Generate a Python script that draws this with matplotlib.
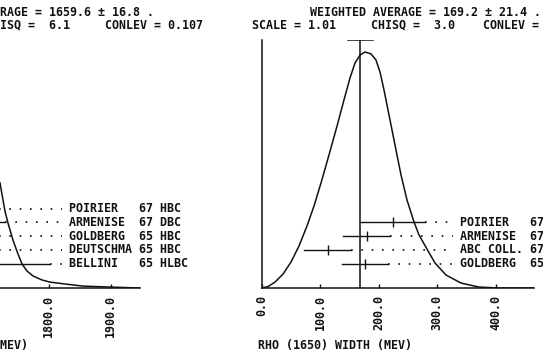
import matplotlib
matplotlib.use("Agg")
import matplotlib.pyplot as plt

plt.rcParams['font.family'] = ['DejaVu Sans Mono']
plt.rcParams['font.weight'] = 'bold'

# ---- left panel: RHO (1650) MASS, ideogram (only its right tail is visible)
mass_avg, mass_avg_err = 1659.6, 16.8
mass_labels = ["POIRIER   67 HBC", "ARMENISE  67 DBC", "GOLDBERG  65 HBC",
               "DEUTSCHMA 65 HBC", "BELLINI   65 HLBC"]
mass_val = [1640, 1670, 1650, 1660, 1700]
mass_err = [50, 60, 45, 35, 102]
mass_curve_x = [1721.8, 1726.6, 1729.8, 1734.7, 1742.7, 1750.8, 1757.3, 1765.3,
                1775.0, 1789.5, 1802.4, 1826.6, 1855.6, 1899.0, 1947.6]
mass_curve_y = [0.445, 0.373, 0.326, 0.275, 0.203, 0.144, 0.102, 0.072,
                0.051, 0.034, 0.025, 0.017, 0.008, 0.004, 0.0]
mass_ticks = [1800, 1900]

# ---- right panel: RHO (1650) WIDTH
width_avg, width_avg_err = 169.2, 21.4
width_labels = ["POIRIER   67", "ARMENISE  67", "ABC COLL. 67", "GOLDBERG  65"]
width_val = [224, 180, 113, 177]
width_err = [56, 40, 40, 40]
width_curve_x = [0, 11.1, 23.1, 36.8, 50.4, 64.1, 77.8, 89.7, 101.7, 115.4,
                 129.1, 141.0, 151.3, 159.8, 168.4, 176.9, 187.2, 195.7, 202.6,
                 209.4, 218.0, 228.2, 238.5, 248.7, 260.7, 269.2, 282.9, 296.6,
                 315.4, 341.0, 371.8, 406.0, 466.0]
width_curve_y = [0, 0.006, 0.025, 0.059, 0.110, 0.178, 0.263, 0.347, 0.445, 0.564,
                 0.686, 0.797, 0.890, 0.953, 0.987, 1.0, 0.992, 0.966, 0.915,
                 0.839, 0.733, 0.606, 0.479, 0.373, 0.280, 0.225, 0.165, 0.106,
                 0.055, 0.021, 0.004, 0.0, 0.0]
width_ticks = [0, 100, 200, 300, 400]

W, H = 543, 360
FS = 8.4
INK = '#111111'


def fx(x):
    return x / W


def fy(y):
    return 1 - y / H


def row_y(i):
    # measurement rows counted from the bottom
    return (288 - (263.5 - 13.75 * i)) / 236


def ideogram(ax, xlim, cx, cy, labels, vals, errs, label_x, avg, avg_err, ticks):
    top = 248 / 236
    ax.plot(cx, cy, color=INK, lw=1.1)
    ax.plot([avg, avg], [0, top], color=INK, lw=1.1)
    ax.plot([avg - avg_err, avg + avg_err], [top, top], color=INK, lw=1.1)
    n = len(labels)
    for k, (lab, v, e) in enumerate(zip(labels, vals, errs)):
        y = row_y(n - 1 - k)
        ax.plot([v - e, v + e], [y, y], color=INK, lw=1.0)
        ax.plot([v], [y], marker='|', ms=6.5, mew=1.0, color=INK)
        ax.plot([v + e, label_x], [y, y], color=INK, lw=1.2,
                linestyle=(0, (1, 5.2)))
        ax.text(label_x, y, " " + lab, fontsize=FS, va='center', ha='left',
                color=INK, clip_on=False)
    ax.set_xticks(ticks)
    ax.set_xticklabels([f"{t:.1f}" for t in ticks])
    ax.set_xlim(*xlim)
    ax.set_ylim(0, top)
    ax.tick_params(axis='x', direction='in', length=3, width=1.0, pad=5,
                   labelsize=FS, labelrotation=90, colors=INK)
    ax.set_yticks([])
    for s in ['top', 'right']:
        ax.spines[s].set_visible(False)
    for s in ['left', 'bottom']:
        ax.spines[s].set_linewidth(1.1)
        ax.spines[s].set_color(INK)


fig = plt.figure(figsize=(W / 100, H / 100), dpi=100)
fig.patch.set_facecolor('white')

# axes boxes in pixels: baseline at y=288, top at y=40
axL = fig.add_axes([fx(0), fy(288), fx(140), 248 / H])
ideogram(axL, (1800 - 48.5 / 0.62, 1800 + (140 - 48.5) / 0.62),
         mass_curve_x, mass_curve_y, mass_labels, mass_val, mass_err,
         1822, mass_avg, mass_avg_err, mass_ticks)
axL.spines['left'].set_visible(False)

axR = fig.add_axes([fx(261.5), fy(288), fx(534 - 261.5), 248 / H])
ideogram(axR, (0, (534 - 261.5) / 0.585),
         width_curve_x, width_curve_y, width_labels, width_val, width_err,
         328, width_avg, width_avg_err, width_ticks)

# headers (the scan is cropped, so the left panel's texts run off the edge)
fig.text(fx(-84), fy(13), "WEIGHTED AVERAGE = %.1f \u00b1 %.1f ." % (mass_avg, mass_avg_err),
         fontsize=FS, ha='left', va='center', color=INK)
fig.text(fx(-14), fy(24.5), "CHISQ =  6.1     CONLEV = 0.107",
         fontsize=FS, ha='left', va='center', color=INK)
fig.text(fx(310), fy(13), "WEIGHTED AVERAGE = %.1f \u00b1 %.1f ." % (width_avg, width_avg_err),
         fontsize=FS, ha='left', va='center', color=INK)
fig.text(fx(252), fy(24.5), "SCALE = 1.01     CHISQ =  3.0    CONLEV =",
         fontsize=FS, ha='left', va='center', color=INK)

# axis titles
fig.text(fx(-119), fy(346), "RHO (1650) MASS (MEV)", fontsize=FS, ha='left',
         va='center', color=INK)
fig.text(fx(258), fy(346), "RHO (1650) WIDTH (MEV)", fontsize=FS, ha='left',
         va='center', color=INK)

fig.savefig("out.png", dpi=100, facecolor='white')
